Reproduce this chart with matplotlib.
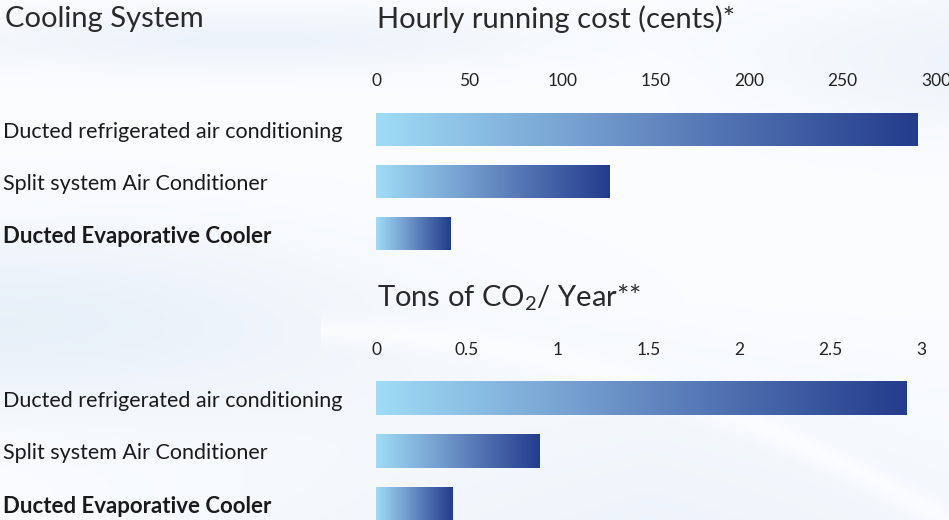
import numpy as np
import matplotlib
matplotlib.use("Agg")
import matplotlib.pyplot as plt
import matplotlib.transforms as mtrans
from matplotlib.colors import LinearSegmentedColormap

plt.rcParams['font.family'] = ['Lato', 'DejaVu Sans']
plt.rcParams['mathtext.fontset'] = 'custom'
plt.rcParams['mathtext.rm'] = 'Lato'

# ---- data ----
categories = ["Ducted refrigerated air conditioning",
              "Split system Air Conditioner",
              "Ducted Evaporative Cooler"]
bold_flags = [False, False, True]
cost_cents = [290, 125, 40]
cost_ticks = [0, 50, 100, 150, 200, 250, 300]
cost_ticklabels = ["0", "50", "100", "150", "200", "250", "300"]
co2_tons = [2.92, 0.90, 0.42]
co2_ticks = [0, 0.5, 1, 1.5, 2, 2.5, 3]
co2_ticklabels = ["0", "0.5", "1", "1.5", "2", "2.5", "3"]

W, H = 949, 520
fig = plt.figure(figsize=(W / 100, H / 100), dpi=100)

# ---- decorative background ----
bg_ax = fig.add_axes([0, 0, 1, 1], zorder=-10)
yy, xx = np.mgrid[0:H, 0:W]
base = np.ones((H, W, 3)) * np.array([0.985, 0.99, 1.0])
tint = np.array([0.86, 0.91, 0.96])
w = np.zeros((H, W))
w += 0.6 * np.exp(-((yy - 320) / 90.0) ** 2) * np.exp(-(xx / 380.0) ** 2)
w += 0.45 * np.exp(-((yy - 40) / 30.0) ** 2) * np.exp(-((xx - 250) / 300.0) ** 2)
w += 0.40 * np.exp(-((yy - 60) / 70.0) ** 2) * np.clip((xx - 650) / 300.0, 0, 1)
w += 0.5 * np.clip((yy - 300) / 260.0, 0, 1) * np.clip(1 - np.abs(xx - 650) / 700.0, 0, 1)
w = np.clip(w, 0, 1)
img = base * (1 - w[..., None]) + tint * w[..., None]
# white swoosh
curve_y = 330 + (xx - 300) ** 2 / 2200.0
sw = np.exp(-((yy - curve_y) / 14.0) ** 2) * (xx > 320)
img = img * (1 - 0.6 * sw[..., None]) + 0.6 * sw[..., None]
bg_ax.imshow(img, aspect='auto', extent=[0, 1, 0, 1], origin='upper')
bg_ax.set_axis_off()

cmap = LinearSegmentedColormap.from_list("bar", ["#9fdcf6", "#7aa6d4", "#4f6fb0", "#243c8c"])
grad = np.linspace(0, 1, 256).reshape(1, -1)


def make_panel(left_px, right_px, y0_px, y1_px, values, xmax, ticks, ticklabels):
    per = (y1_px - y0_px) / 2.0
    top_px = y0_px - 0.6 * per
    bot_px = y1_px + 0.6 * per
    ax = fig.add_axes([left_px / W, 1 - bot_px / H,
                       (right_px - left_px) / W, (bot_px - top_px) / H])
    ax.patch.set_alpha(0)
    for s in ax.spines.values():
        s.set_visible(False)
    h = 0.63
    for i, v in enumerate(values):
        ax.imshow(grad, cmap=cmap, aspect='auto',
                  extent=[0, v, i + h / 2, i - h / 2], zorder=2)
    ax.set_xlim(0, xmax)
    ax.set_ylim(2.6, -0.6)
    ax.xaxis.tick_top()
    ax.set_xticks(ticks)
    ax.set_xticklabels(ticklabels)
    ax.tick_params(axis='x', length=0, pad=6.5, labelsize=12.5, labelcolor='#222222')
    ax.set_yticks([])
    trans = mtrans.blended_transform_factory(fig.transFigure, ax.transData)
    for i, (c, b) in enumerate(zip(categories, bold_flags)):
        ax.text(3 / W, i + 0.04, c, transform=trans, ha='left', va='center',
                fontsize=16 if b else 15.5,
                fontweight='bold' if b else 'normal', color='#1a1a1a',
                clip_on=False)
    return ax


ax1 = make_panel(376, 936, 129.5, 234, cost_cents, 300, cost_ticks, cost_ticklabels)
ax2 = make_panel(376, 921, 398.5, 504, co2_tons, 3, co2_ticks, co2_ticklabels)

fig.text(5 / W, 1 - 19 / H, "Cooling System", fontsize=21, color='#2a2a2a',
         ha='left', va='center')
fig.text(377 / W, 1 - 19 / H, "Hourly running cost (cents)*", fontsize=21,
         color='#2a2a2a', ha='left', va='center')
fig.text(377 / W, 1 - 298 / H, r"Tons of CO$_{\mathrm{2}}$/ Year**", fontsize=21,
         color='#2a2a2a', ha='left', va='center')

fig.savefig("out.png", dpi=100)
